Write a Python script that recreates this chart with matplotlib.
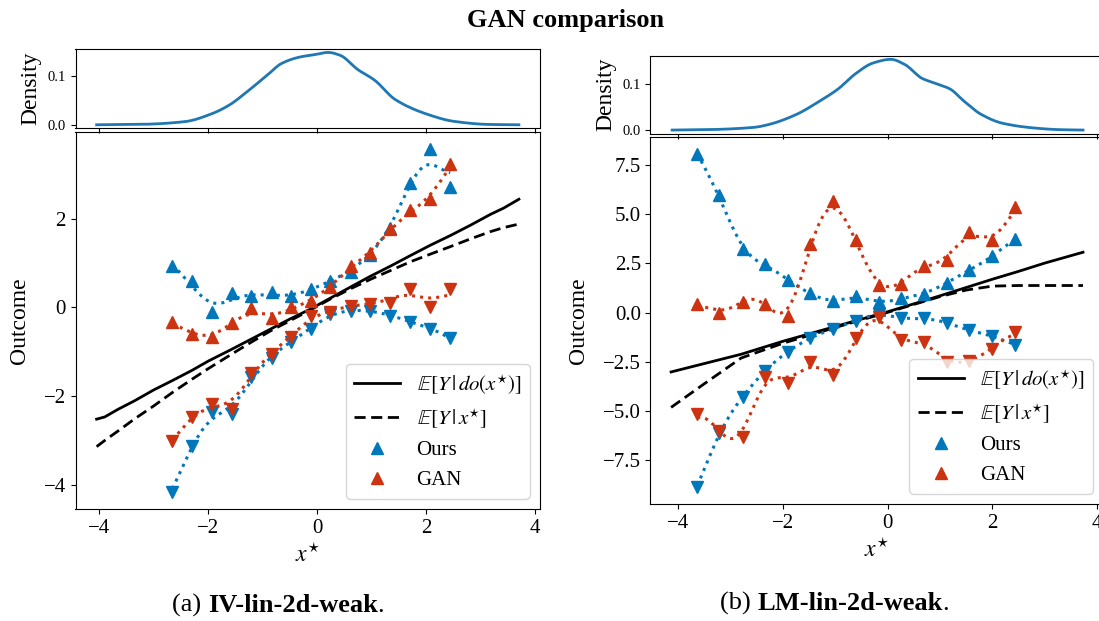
import numpy as np
import matplotlib
matplotlib.use("Agg")
import matplotlib.pyplot as plt
from matplotlib.lines import Line2D

plt.rcParams['font.family'] = ['Liberation Serif', 'DejaVu Serif']
plt.rcParams['mathtext.fontset'] = 'stix'
plt.rcParams['axes.unicode_minus'] = True

BLUE = '#0077BB'
RED = '#CC3311'
DENS = '#1f77b4'

# ---------------- Panel (a): IV-lin-2d-weak ----------------
a_xq = [-2.66, -2.30, -1.93, -1.57, -1.21, -0.84, -0.48, -0.12, 0.24, 0.61, 0.97, 1.34, 1.71, 2.07, 2.44]
a_ours_up = [0.94, 0.59, -0.11, 0.32, 0.26, 0.34, 0.26, 0.41, 0.59, 0.79, 1.19, 1.79, 2.80, 3.57, 2.71]
a_ours_lo = [-4.16, -3.12, -2.37, -2.41, -1.58, -1.13, -0.77, -0.49, -0.15, -0.08, -0.08, -0.19, -0.34, -0.49, -0.68]
a_gan_up = [-0.32, -0.60, -0.66, -0.36, -0.02, -0.24, 0.00, 0.15, 0.45, 0.94, 1.22, 1.77, 2.20, 2.44, 3.23]
a_gan_lo = [-3.01, -2.47, -2.17, -2.29, -1.47, -1.04, -0.66, -0.19, -0.10, 0.04, 0.08, 0.11, 0.41, 0.02, 0.41]

a_line_x = [-4.05, -3.90, -3.66, -3.36, -3.00, -2.66, -2.30, -2.00, -1.58, -1.22, -0.86, -0.50, -0.13,
            0.24, 0.61, 0.97, 1.34, 1.71, 2.07, 2.44, 2.82, 3.18, 3.42, 3.70]
a_do = [-2.52, -2.47, -2.30, -2.11, -1.86, -1.65, -1.42, -1.21, -0.95, -0.72, -0.49, -0.26, -0.04,
        0.21, 0.46, 0.70, 0.93, 1.17, 1.40, 1.62, 1.86, 2.10, 2.24, 2.44]
a_obs = [-3.14, -3.00, -2.79, -2.52, -2.22, -1.92, -1.62, -1.38, -1.06, -0.79, -0.53, -0.30, -0.06,
         0.19, 0.42, 0.63, 0.83, 1.03, 1.20, 1.37, 1.55, 1.71, 1.80, 1.88]

a_dens_x = [-4.05, -3.20, -2.43, -1.93, -1.61, -1.29, -0.91, -0.66, -0.34, -0.02, 0.20, 0.42, 0.74,
            1.05, 1.43, 2.01, 2.51, 3.15, 3.70]
a_dens = [0.0, 0.001, 0.0065, 0.023, 0.041, 0.068, 0.103, 0.126, 0.139, 0.145, 0.149, 0.143, 0.114,
          0.092, 0.052, 0.022, 0.007, 0.0007, 0.0]

# ---------------- Panel (b): LM-lin-2d-weak ----------------
b_xq = [-3.64, -3.22, -2.77, -2.35, -1.90, -1.48, -1.04, -0.61, -0.17, 0.25, 0.69, 1.13, 1.56, 2.00, 2.43]
b_ours_up = [8.06, 5.96, 3.21, 2.48, 1.64, 1.01, 0.59, 0.84, 0.54, 0.73, 0.96, 1.52, 2.16, 2.87, 3.75]
b_ours_lo = [-8.87, -6.13, -4.27, -2.96, -1.98, -1.30, -0.84, -0.42, -0.08, -0.29, -0.29, -0.51, -0.90, -1.18, -1.64]
b_gan_up = [0.42, 0.00, 0.54, 0.46, -0.17, 3.50, 5.66, 3.68, 1.40, 1.44, 2.36, 2.70, 4.09, 3.68, 5.35]
b_gan_lo = [-5.15, -6.00, -6.33, -3.29, -3.58, -2.48, -3.18, -1.27, -0.20, -1.40, -1.49, -2.53, -2.45, -1.86, -0.98]

b_line_x = [-4.14, -3.50, -2.80, -2.00, -1.00, 0.00, 0.50, 1.00, 1.50, 2.00, 2.50, 3.00, 3.73]
b_do = [-3.01, -2.58, -2.11, -1.45, -0.70, 0.05, 0.45, 0.86, 1.28, 1.70, 2.10, 2.52, 3.07]
b_obs = [-4.81, -3.60, -2.30, -1.55, -0.75, 0.02, 0.42, 0.82, 1.15, 1.35, 1.38, 1.38, 1.38]

b_dens_x = [-4.12, -3.42, -2.55, -2.28, -1.75, -1.35, -0.95, -0.61, -0.28, 0.06, 0.32, 0.66, 0.92,
            1.19, 1.46, 1.79, 2.19, 2.79, 3.26, 3.73]
b_dens = [0.0, 0.001, 0.006, 0.012, 0.034, 0.060, 0.090, 0.124, 0.147, 0.155, 0.144, 0.113, 0.102,
          0.090, 0.063, 0.034, 0.015, 0.0046, 0.001, 0.0]


def smooth(x, y, ls=0.42, r=0.1, n=200):
    """Cubic trend plus Gaussian-process smoothing of the residuals."""
    x = np.asarray(x, float)
    y = np.asarray(y, float)
    xs = np.linspace(x.min(), x.max(), n)
    c = np.polyfit(x, y, 3)
    res = y - np.polyval(c, x)
    sv = max(res.var(), 1e-9)
    k = lambda a, b: np.exp(-(a[:, None] - b[None, :]) ** 2 / (2 * ls ** 2))
    K = sv * k(x, x) + r * sv * np.eye(len(x))
    alpha = np.linalg.solve(K, res)
    return xs, np.polyval(c, xs) + sv * k(xs, x) @ alpha


def pchip(x, y, n=300):
    """Shape-preserving cubic rendering of the read density points."""
    x = np.asarray(x, float)
    y = np.asarray(y, float)
    h = np.diff(x)
    d = np.diff(y) / h
    m = np.zeros_like(y)
    for k in range(1, len(x) - 1):
        if d[k - 1] * d[k] > 0:
            w1 = 2 * h[k] + h[k - 1]
            w2 = h[k] + 2 * h[k - 1]
            m[k] = (w1 + w2) / (w1 / d[k - 1] + w2 / d[k])
    m[0] = d[0]
    m[-1] = d[-1]
    xs = np.linspace(x[0], x[-1], n)
    idx = np.clip(np.searchsorted(x, xs) - 1, 0, len(x) - 2)
    t = (xs - x[idx]) / h[idx]
    h00 = 2 * t ** 3 - 3 * t ** 2 + 1
    h10 = t ** 3 - 2 * t ** 2 + t
    h01 = -2 * t ** 3 + 3 * t ** 2
    h11 = t ** 3 - t ** 2
    ys = h00 * y[idx] + h10 * h[idx] * m[idx] + h01 * y[idx + 1] + h11 * h[idx] * m[idx + 1]
    return xs, ys


W, H = 1099, 621
fig = plt.figure(figsize=(W / 100, H / 100), dpi=100)


def px_rect(l, r, t, b):
    return [l / W, 1 - b / H, (r - l) / W, (b - t) / H]


def panel(main_rect, dens_rect, xq, ours_up, ours_lo, gan_up, gan_lo,
          line_x, do, obs, dens_x, dens, yticks, ls, r):
    axm = fig.add_axes(main_rect)
    axd = fig.add_axes(dens_rect, sharex=axm)

    dx, dy = pchip(dens_x, dens)
    axd.plot(dx, dy, color=DENS, lw=2)
    axd.set_ylabel('Density', fontsize=17)
    axd.set_yticks([0.0, 0.1])
    axd.set_yticklabels(['0.0', '0.1'])
    axd.tick_params(axis='y', labelsize=10.5)
    axd.tick_params(axis='x', labelbottom=False)

    axm.plot(line_x, do, color='black', lw=2, ls='-')
    axm.plot(line_x, obs, color='black', lw=2, ls=(0, (4, 2)))
    for ys, col, mk in [(ours_up, BLUE, '^'), (ours_lo, BLUE, 'v'),
                        (gan_up, RED, '^'), (gan_lo, RED, 'v')]:
        xs, fs = smooth(xq, ys, ls, r)
        axm.plot(xs, fs, color=col, ls=':', lw=2.2)
        axm.plot(xq, ys, ls='none', marker=mk, color=col, ms=9)
    axm.set_xticks([-4, -2, 0, 2, 4])
    axm.set_yticks(yticks)
    axm.tick_params(labelsize=15)
    axm.set_xlabel(r'$x^{\star}$', fontsize=17)
    axm.set_ylabel('Outcome', fontsize=17, labelpad=10)

    handles = [Line2D([], [], color='black', lw=2, ls='-'),
               Line2D([], [], color='black', lw=2, ls=(0, (4, 2))),
               Line2D([], [], color=BLUE, marker='^', ls='none', ms=9),
               Line2D([], [], color=RED, marker='^', ls='none', ms=9)]
    labels = [r'$\mathbb{E}[Y\,|\,do(x^{\star})]$', r'$\mathbb{E}[Y\,|\,x^{\star}]$', 'Ours', 'GAN']
    axm.legend(handles, labels, loc='lower right', fontsize=15, handlelength=2.2)
    return axm, axd


panel(px_rect(75.5, 540, 132, 509), px_rect(75.5, 540, 48.8, 128.4),
      a_xq, a_ours_up, a_ours_lo, a_gan_up, a_gan_lo,
      a_line_x, a_do, a_obs, a_dens_x, a_dens, [-4, -2, 0, 2], 0.40, 0.35)

panel(px_rect(650.5, 1103.6, 137, 504), px_rect(650.5, 1103.6, 55.8, 133.6),
      b_xq, b_ours_up, b_ours_lo, b_gan_up, b_gan_lo,
      b_line_x, b_do, b_obs, b_dens_x, b_dens, [-7.5, -5.0, -2.5, 0.0, 2.5, 5.0, 7.5], 0.40, 0.15)

fig.text(566 / W, 1 - 20 / H, 'GAN comparison', ha='center', va='center',
         fontsize=19, fontweight='bold')


def caption(x0, yc, pre, bold, post):
    t1 = fig.text(x0, yc, pre, ha='left', va='center', fontsize=19)
    t2 = fig.axes[0].annotate(bold, xy=(1, 0), xycoords=t1, ha='left', va='bottom',
                              fontsize=19, fontweight='bold', annotation_clip=False)
    fig.axes[0].annotate(post, xy=(1, 0), xycoords=t2, ha='left', va='bottom',
                         fontsize=19, annotation_clip=False)


caption(172 / W, 1 - 605 / H, '(a) ', 'IV-lin-2d-weak', '.')
caption(720 / W, 1 - 603 / H, '(b) ', 'LM-lin-2d-weak', '.')

fig.savefig('out.png', dpi=100)
